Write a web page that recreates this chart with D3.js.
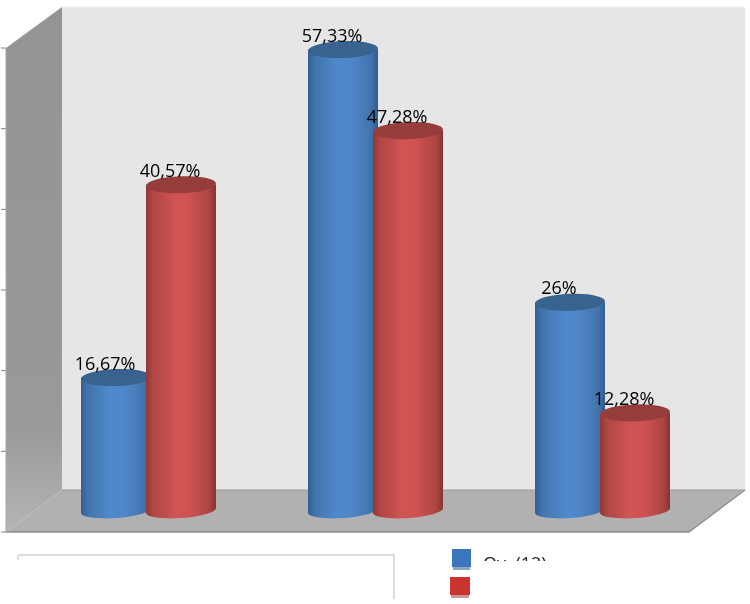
<!DOCTYPE html>
<html><head><meta charset="utf-8">
<script src="https://cdn.jsdelivr.net/npm/d3@7/dist/d3.min.js"></script>
<style>html,body{margin:0;padding:0;background:#fff}svg{display:block}</style></head>
<body><svg id="c" width="750" height="604"></svg>
<script>
const categories = ["A", "B", "C"];
const seriesNames = ["blue", "red"];
const blueValues = [16.67, 57.33, 26];
const redValues = [40.57, 47.28, 12.28];
const blueLabels = ["16,67%", "57,33%", "26%"];
const redLabels = ["40,57%", "47,28%", "12,28%"];
const tickValues = [0, 10, 20, 30, 40, 50, 60];
const legendText = "Ov. (12)";

const svg = d3.select("#c");
const defs = svg.append("defs");
const W = {l:62, r:745, t:7, b:490}, dx = 56, dy = 42;
const yAxisScale = d3.scaleLinear().domain([0,60]).range([532,48]);
const yBar = d3.scaleLinear().domain([0,60]).range([512,28]);
const x0 = d3.scaleBand().domain(categories).range([35,716]);
const RX = 35, RY = 8.5;
const xOff = {blue:-32.5, red:32.5};

function grad(id, stops){
  const g = defs.append("linearGradient").attr("id",id).attr("x1","0").attr("x2","1").attr("y1","0").attr("y2","0");
  stops.forEach(s=>g.append("stop").attr("offset",s[0]).attr("stop-color",s[1]));
}
grad("g-blue",[[0,"#355f92"],[0.1,"#4174ae"],[0.42,"#5089cc"],[0.62,"#4f87c9"],[0.9,"#4274ae"],[1,"#325c8c"]]);
grad("g-red",[[0,"#8f3836"],[0.1,"#b04644"],[0.42,"#d05453"],[0.62,"#ce5251"],[0.9,"#ad4543"],[1,"#853331"]]);
const topCol = {blue:"#37638f", red:"#963c3b"};

const side = defs.append("linearGradient").attr("id","g-side").attr("x1","0").attr("x2","0").attr("y1","0").attr("y2","1");
side.append("stop").attr("offset",0).attr("stop-color","#949494");
side.append("stop").attr("offset",0.8).attr("stop-color","#999999");
side.append("stop").attr("offset",1).attr("stop-color","#b4b4b4");

const f = defs.append("filter").attr("id","soft").attr("x","-5%").attr("y","-5%").attr("width","110%").attr("height","110%");
f.append("feGaussianBlur").attr("stdDeviation",0.6);
const clip = defs.append("clipPath").attr("id","lg");
clip.append("rect").attr("x",478).attr("y",550).attr("width",90).attr("height",11);

const line = d3.line();
// walls
svg.append("path").attr("d",line([[W.l,W.t],[W.r,W.t],[W.r,W.b],[W.l,W.b]])+"Z").attr("fill","#e6e6e6");
svg.append("path").attr("d",line([[W.l-dx,W.t+dy-1],[W.l,W.t],[W.l,W.b],[W.l-dx,W.b+dy]])+"Z").attr("fill","url(#g-side)");
svg.append("path").attr("d",line([[W.l-dx,W.b+dy],[W.l,W.b],[W.r,W.b],[W.r-dx,W.b+dy]])+"Z").attr("fill","#b1b1b1");
svg.append("path").attr("d",line([[W.l,W.b],[W.r,W.b]])).attr("stroke","#9c9c9c").attr("fill","none");
svg.append("path").attr("d",line([[W.l-dx,W.b+dy],[W.r-dx,W.b+dy],[W.r,W.b]])).attr("stroke","#8e8e8e").attr("stroke-width",1.3).attr("fill","none");
svg.append("path").attr("d",line([[W.l,W.t],[W.r,W.t]])).attr("stroke","#f0f0f0").attr("fill","none");

// axis
svg.append("g").selectAll("line").data(tickValues).join("line")
  .attr("x1",1).attr("x2",6).attr("y1",d=>yAxisScale(d)).attr("y2",d=>yAxisScale(d))
  .attr("stroke","#808080");
svg.append("line").attr("x1",6).attr("x2",6).attr("y1",yAxisScale(60)).attr("y2",yAxisScale(0)).attr("stroke","#a8a8a8");

// bars
const bars = [];
categories.forEach((c,i)=>{
  bars.push({s:"blue",c,v:blueValues[i],t:blueLabels[i]});
  bars.push({s:"red",c,v:redValues[i],t:redLabels[i]});
});
const layer = svg.append("g").attr("filter","url(#soft)");
bars.forEach(b=>{
  const cx = x0(b.c)+x0.bandwidth()/2+xOff[b.s];
  const yt = yBar(b.v), yb = yBar(0);
  const g = layer.append("g");
  g.append("path")
   .attr("d",`M${cx-RX},${yt}L${cx-RX},${yb+1}A${RX},${RY-1} -4 0 0 ${cx+RX},${yb-4}L${cx+RX},${yt}Z`)
   .attr("fill",`url(#g-${b.s})`);
  g.append("ellipse").attr("rx",RX).attr("ry",RY).attr("fill",topCol[b.s])
   .attr("transform",`translate(${cx},${yt}) rotate(-2)`);
});
// labels
svg.append("g").selectAll("text").data(bars).join("text")
  .attr("x",d=>x0(d.c)+x0.bandwidth()/2+xOff[d.s]-11)
  .attr("y",d=>yBar(d.v)-8)
  .attr("text-anchor","middle")
  .attr("font-family","'Open Sans',sans-serif").attr("font-size",18).attr("fill","#000")
  .text(d=>d.t);

// legend box
svg.append("path").attr("d",line([[18,560],[18,555],[394,555],[394,599]])).attr("stroke","#bdbdbd").attr("fill","none");
const lg = svg.append("g").attr("filter","url(#soft)");
lg.append("rect").attr("x",452).attr("y",549).attr("width",19).attr("height",18).attr("fill","#3a75bd");
lg.append("rect").attr("x",453).attr("y",567).attr("width",17).attr("height",3).attr("fill","#8fa5ba");
lg.append("rect").attr("x",450).attr("y",577).attr("width",20).attr("height",18).attr("fill","#c9352f");
lg.append("rect").attr("x",451).attr("y",595).attr("width",18).attr("height",3).attr("fill","#c49a98");
svg.append("text").attr("x",483).attr("y",570).attr("clip-path","url(#lg)")
  .attr("font-family","'Open Sans',sans-serif").attr("font-size",18).attr("fill","#222").text(legendText);
</script></body></html>
